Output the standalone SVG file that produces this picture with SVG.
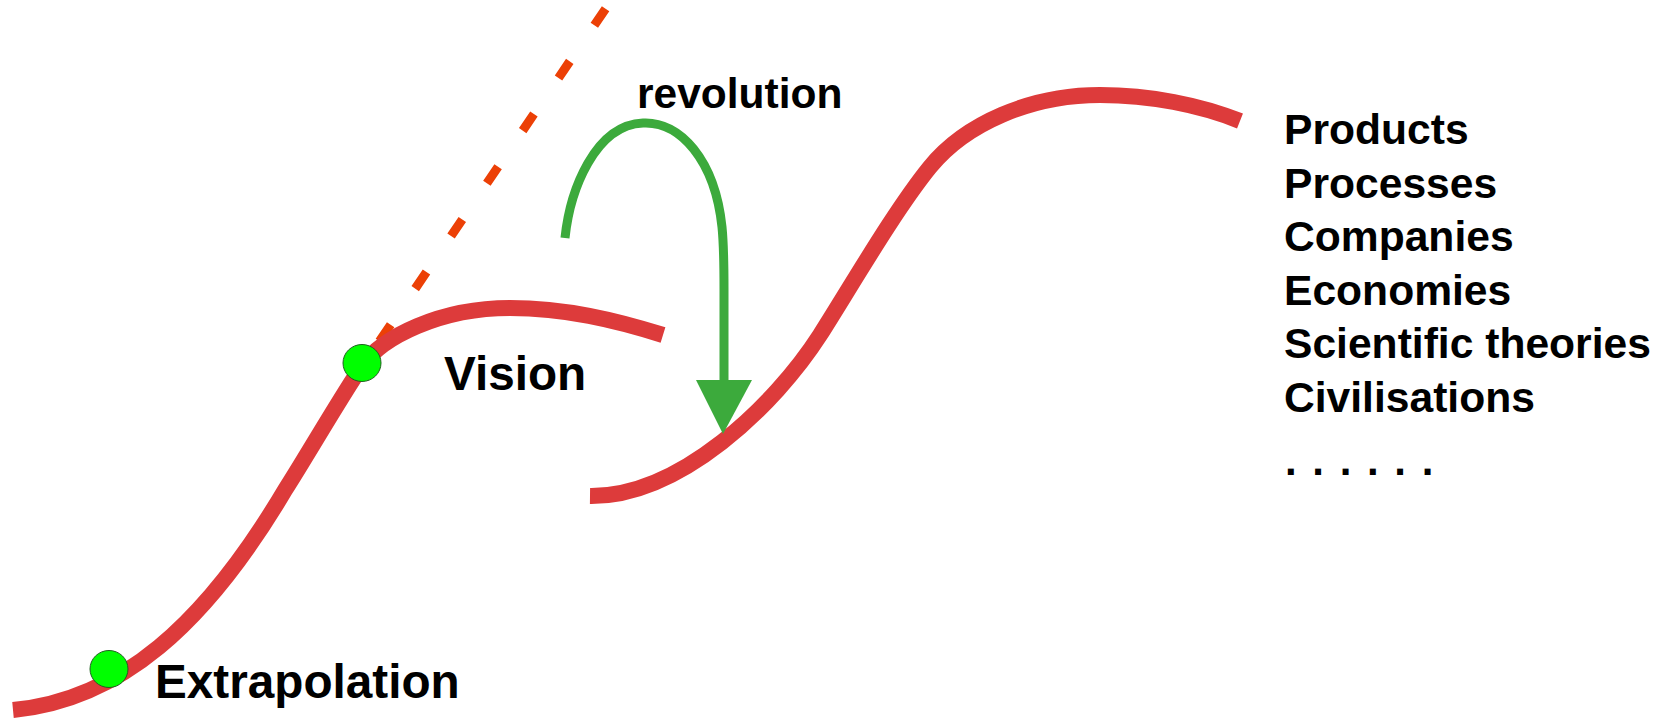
<svg xmlns="http://www.w3.org/2000/svg" width="1663" height="718" viewBox="0 0 1663 718">
<style>
  .curve { fill: none; stroke: #DD3B3B; stroke-width: 16; stroke-linecap: butt; }
  .dash { fill: none; stroke: #EC4006; stroke-width: 9; stroke-dasharray: 20 43.7; }
  .dot { fill: #00FF00; stroke: #1F5F1F; stroke-width: 1; }
  .lbl { font-family: "Liberation Sans", Arial, sans-serif; font-weight: bold; fill: #000; }
  .arrow { fill: none; stroke: #3CAA3C; stroke-width: 9; }
  .head { fill: #3CAA3C; }
</style>
<rect width="1663" height="718" fill="#FFFFFF"/>
<g id="extrapolation-line">
  <path class="dash" d="M379.4,341.3 L605.6,8.7"/>
</g>
<g id="curve-old">
  <path class="curve" d="M13,710 C120,700 205,625 285,490 C305,459 342,395 362,366 C382,337 440,308 510,308 C565,308 615,320 663,335"/>
</g>
<g id="curve-new">
  <path class="curve" d="M590,496 C680,497 775,405 820,335 C850,288 895,210 930,167 C965,124 1030,95 1100,95 C1150,95 1200,105 1240,121"/>
</g>
<g id="point-extrapolation">
  <ellipse class="dot" cx="109" cy="669" rx="19" ry="18.5"/>
  <text class="lbl" x="155" y="698" font-size="47.7">Extrapolation</text>
</g>
<g id="point-vision">
  <ellipse class="dot" cx="362" cy="363" rx="19" ry="18.5"/>
  <text class="lbl" x="444" y="390" font-size="47.7">Vision</text>
</g>
<g id="connectors">
  <path class="arrow" d="M565,238 C570,190 595,125 643,123 C680,121 715,160 722,227 C724,247 724,265 724,290 L724,382"/>
  <polygon class="head" points="696,380 752,380 723,434"/>
</g>
<g id="label-revolution">
  <text class="lbl" x="637" y="108" font-size="42.5">revolution</text>
</g>
<g id="list">
  <text class="lbl" font-size="42.6">
    <tspan x="1284" y="144">Products</tspan>
    <tspan x="1284" y="197.5">Processes</tspan>
    <tspan x="1284" y="251">Companies</tspan>
    <tspan x="1284" y="304.5">Economies</tspan>
    <tspan x="1284" y="358">Scientific theories</tspan>
    <tspan x="1284" y="411.5">Civilisations</tspan>
  </text>
  <text class="lbl" x="1285" y="475" font-size="42" letter-spacing="2">. . . . . .</text>
</g>
</svg>
